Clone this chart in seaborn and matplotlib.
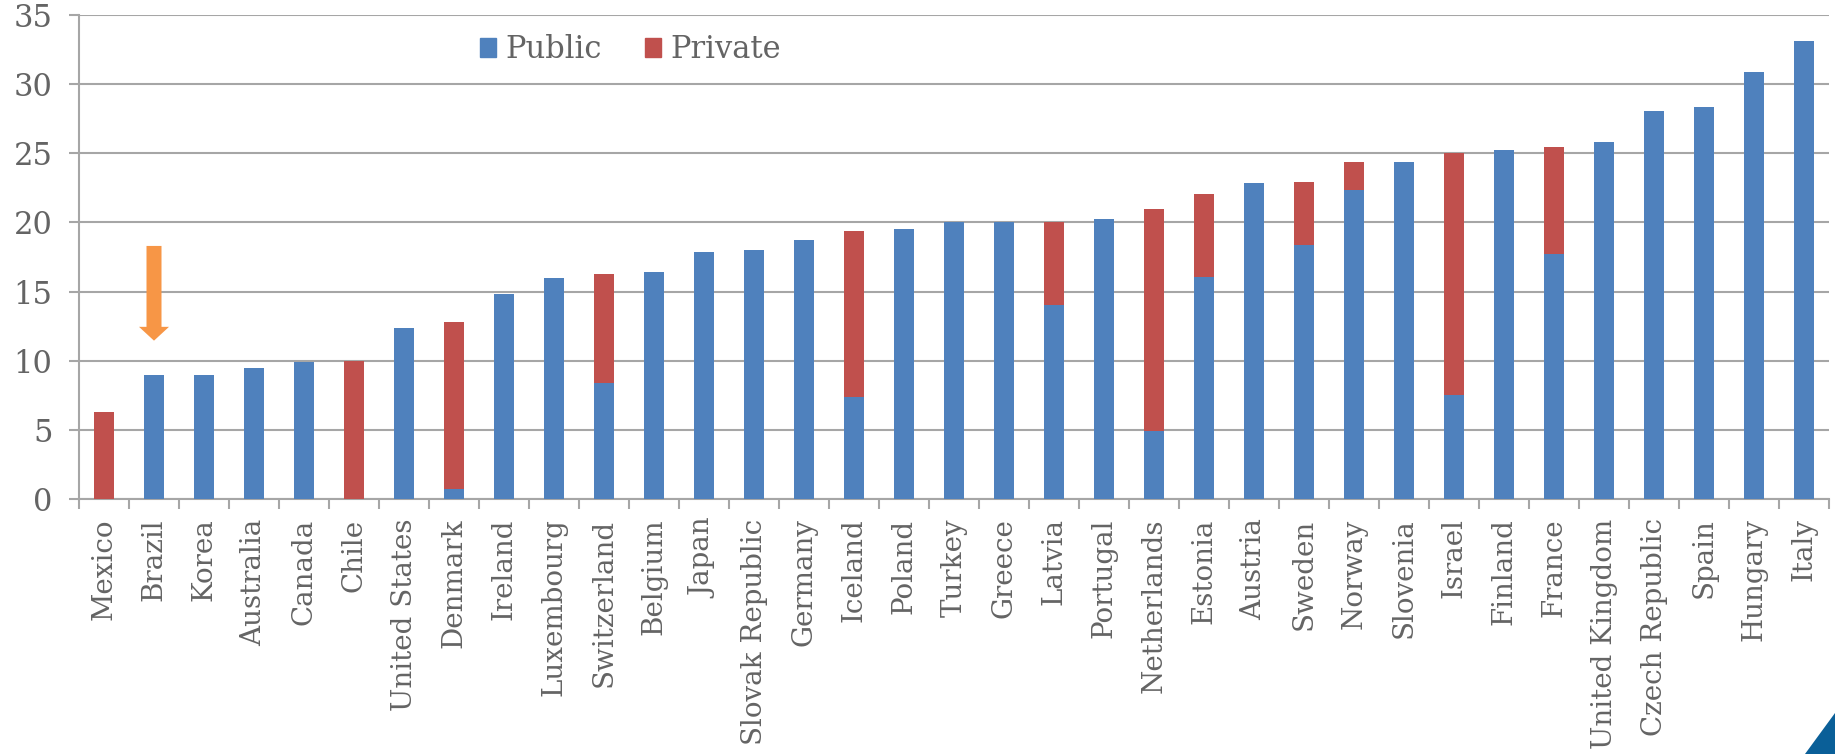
import matplotlib
matplotlib.use("Agg")
import matplotlib.pyplot as plt
import matplotlib.patches as mpatches
from matplotlib.ticker import FixedLocator
import numpy as np
import pandas as pd
import seaborn as sns

countries = ["Mexico", "Brazil", "Korea", "Australia", "Canada", "Chile",
             "United States", "Denmark", "Ireland", "Luxembourg", "Switzerland",
             "Belgium", "Japan", "Slovak Republic", "Germany", "Iceland", "Poland",
             "Turkey", "Greece", "Latvia", "Portugal", "Netherlands", "Estonia",
             "Austria", "Sweden", "Norway", "Slovenia", "Israel", "Finland",
             "France", "United Kingdom", "Czech Republic", "Spain", "Hungary", "Italy"]
public = [0.0, 9.0, 9.0, 9.5, 9.9, 0.0,
          12.4, 0.75, 14.8, 16.0, 8.4,
          16.4, 17.85, 18.0, 18.75, 7.35, 19.55,
          20.05, 20.05, 14.0, 20.25, 4.9, 16.05,
          22.85, 18.4, 22.35, 24.4, 7.5, 25.25,
          17.7, 25.85, 28.05, 28.35, 30.85, 33.1]
private = [6.3, 0.0, 0.0, 0.0, 0.0, 10.0,
           0.0, 12.05, 0.0, 0.0, 7.85,
           0.0, 0.0, 0.0, 0.0, 12.05, 0.0,
           0.0, 0.0, 6.05, 0.0, 16.05, 6.0,
           0.0, 4.55, 2.0, 0.0, 17.55, 0.0,
           7.75, 0.0, 0.0, 0.0, 0.0, 0.0]
series_names = ["Public", "Private"]
y_ticks = [0, 5, 10, 15, 20, 25, 30, 35]
highlight = "Brazil"

BLUE = "#4F81BD"
RED = "#C0504D"
ORANGE = "#F79646"
GRID = "#A6A6A6"
TEXT = "#646464"

df = pd.DataFrame({"country": countries, "public": public, "private": private})
df["total"] = df["public"] + df["private"]

sns.set_theme(style="white")
plt.rcParams["font.family"] = ["DejaVu Serif"]

fig = plt.figure(figsize=(18.35, 7.54), dpi=100)
ax = fig.add_axes([79 / 1835, 1 - 499 / 754, 1750 / 1835, 484 / 754])

# Private share sits on top of public: draw totals in red, then public over it
sns.barplot(data=df, x="country", y="total", order=countries, color=RED,
            saturation=1, width=0.4, ax=ax, zorder=3, linewidth=0)
sns.barplot(data=df, x="country", y="public", order=countries, color=BLUE,
            saturation=1, width=0.4, ax=ax, zorder=4, linewidth=0)

ax.set_xlim(-0.5, len(countries) - 0.5)
ax.set_ylim(0, 35)
ax.set_yticks(y_ticks)
ax.set_xlabel("")
ax.set_ylabel("")

ax.yaxis.grid(True, color=GRID, linewidth=1.5, zorder=0)
ax.set_axisbelow(True)
for side in ["top", "right"]:
    ax.spines[side].set_visible(False)
for side in ["left", "bottom"]:
    ax.spines[side].set_color(GRID)
    ax.spines[side].set_linewidth(1.5)

ax.tick_params(axis="y", which="major", left=True, length=7, width=1.5,
               color=GRID, labelsize=22, labelcolor=TEXT, pad=12)
ax.tick_params(axis="x", which="major", bottom=False, labelsize=20,
               labelcolor=TEXT, pad=8, labelrotation=90)
ax.xaxis.set_minor_locator(FixedLocator(np.arange(-0.5, len(countries), 1.0)))
ax.tick_params(axis="x", which="minor", bottom=True, length=7, width=1.5,
               color=GRID)
for lbl in ax.get_xticklabels():
    lbl.set_verticalalignment("top")

# Marker arrow above the highlighted country
hi = countries.index(highlight)
tip = public[hi] + private[hi] + 2.45
ax.arrow(hi, tip + 6.85, 0, -6.85, width=0.3, head_width=0.6, head_length=1.0,
         length_includes_head=True, color=ORANGE, linewidth=0, zorder=5)

handles = [mpatches.Patch(color=BLUE, label=series_names[0]),
           mpatches.Patch(color=RED, label=series_names[1])]
leg = fig.legend(handles=handles, loc="center left",
                 bbox_to_anchor=(452 / 1835, 1 - 50 / 754), ncol=2,
                 frameon=False, fontsize=22, handlelength=0.55, handleheight=0.55,
                 handletextpad=0.3, columnspacing=1.4)
for t in leg.get_texts():
    t.set_color(TEXT)

# Corner accent
fig.patches.append(mpatches.Polygon([[1805 / 1835, 0], [1, 0], [1, 1 - 713 / 754]],
                                    closed=True, transform=fig.transFigure,
                                    facecolor="#0A5F98", edgecolor="none"))

fig.savefig("out.png", dpi=100)
